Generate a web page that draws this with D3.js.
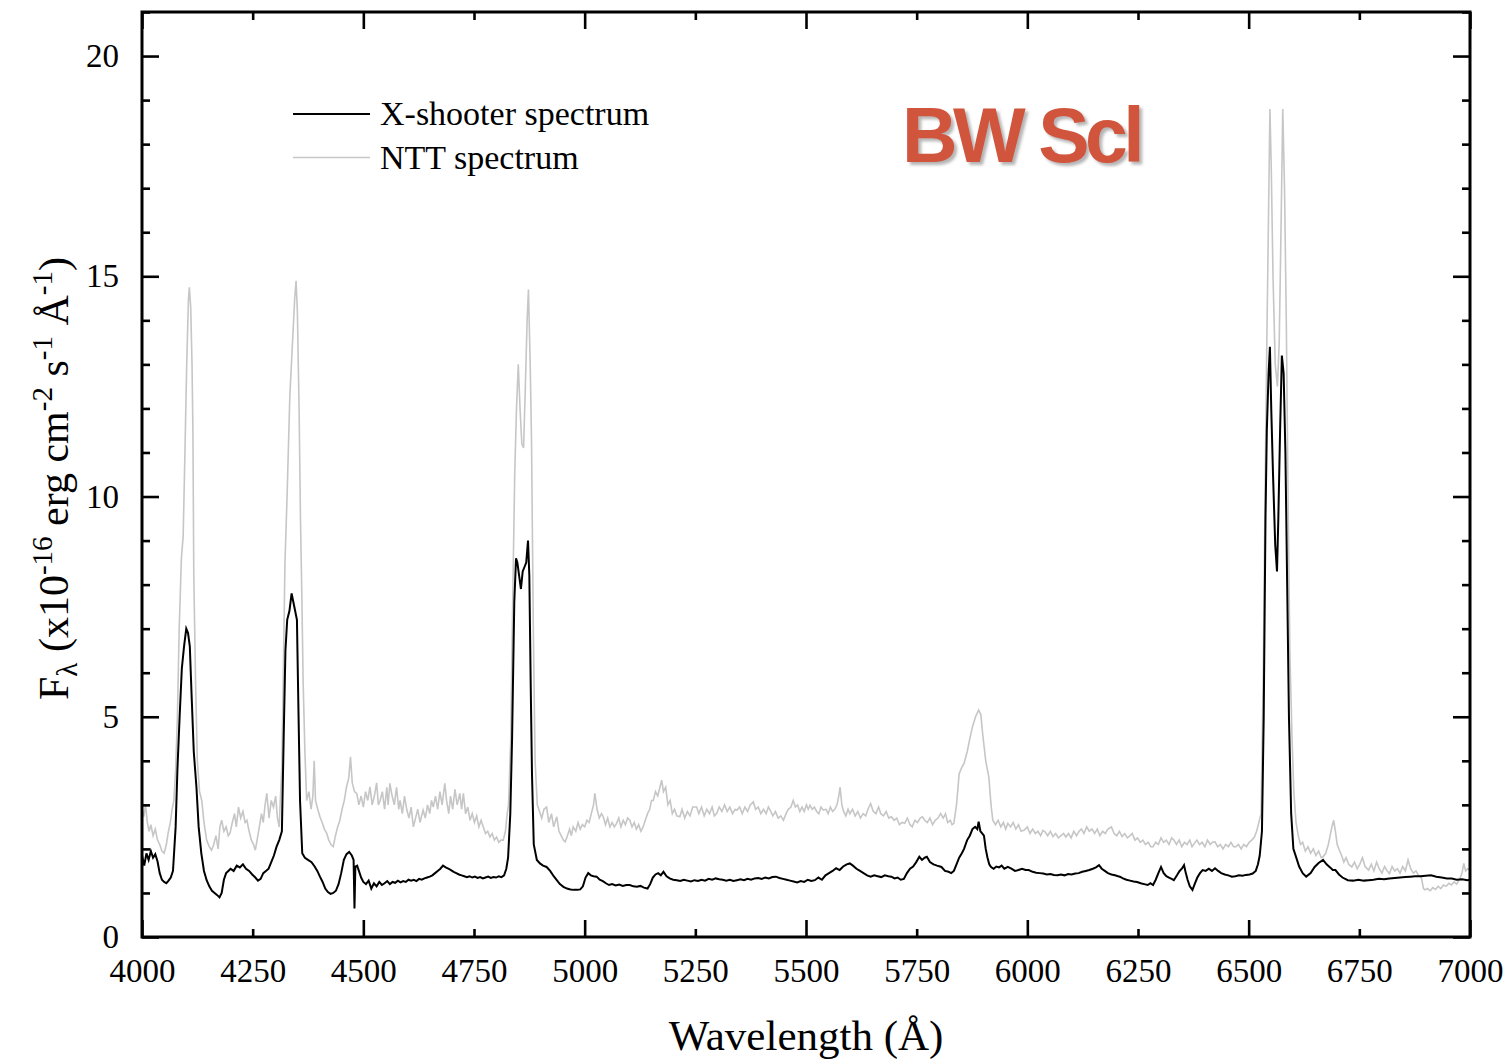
<!DOCTYPE html>
<html>
<head>
<meta charset="utf-8">
<script src="https://cdn.jsdelivr.net/npm/d3@7"></script>
<style>
  body { margin: 0; background: #fff; }
  svg { display: block; }
  .tick text { font-family: "Liberation Serif", "Times New Roman", serif; font-size: 33px; fill: #000; }
</style>
</head>
<body>
<svg id="chart" width="1511" height="1059"></svg>
<script>
// X-shooter spectrum, [wavelength (A), flux]
const xshooter = [
  [4000,1.85],[4005,1.62],[4010,1.9],[4015,1.75],[4020,1.95],[4025,1.8],[4030,1.88],[4035,1.72],[4040,1.45],[4045,1.3],
  [4050,1.25],[4055,1.22],[4060,1.28],[4065,1.35],[4070,1.5],[4076,2.5],[4080,3.8],[4085,5.0],[4090,6.1],[4095,6.6],
  [4100,7.0],[4104,6.9],[4108,6.6],[4112,5.5],[4117,4.2],[4123,3.4],[4128,2.5],[4134,1.9],[4140,1.5],[4146,1.29],
  [4152,1.15],[4158,1.05],[4164,1.0],[4170,0.95],[4175,0.9],[4180,1.0],[4185,1.3],[4190,1.45],[4195,1.5],[4200,1.55],
  [4207,1.5],[4214,1.62],[4221,1.58],[4228,1.65],[4235,1.55],[4242,1.5],[4249,1.42],[4256,1.35],[4262,1.28],[4268,1.32],
  [4274,1.45],[4280,1.5],[4286,1.55],[4292,1.7],[4298,1.85],[4304,2.05],[4310,2.2],[4316,2.4],[4320,4.5],[4324,6.5],
  [4328,7.2],[4333,7.4],[4338,7.8],[4342,7.6],[4346,7.4],[4350,7.2],[4353,5.4],[4357,3.1],[4362,1.9],[4368,1.8],
  [4375,1.75],[4383,1.7],[4390,1.6],[4396,1.5],[4402,1.37],[4408,1.25],[4414,1.1],[4420,1.02],[4426,0.98],[4432,1.0],
  [4438,1.05],[4444,1.2],[4450,1.45],[4456,1.75],[4462,1.88],[4468,1.93],[4474,1.85],[4478,1.75],[4480,0.65],[4482,1.6],
  [4486,1.62],[4490,1.5],[4495,1.35],[4500,1.25],[4506,1.2],[4512,1.28],[4518,1.1],[4524,1.22],[4530,1.15],[4536,1.25],
  [4542,1.18],[4548,1.22],[4554,1.27],[4560,1.2],[4566,1.25],[4572,1.23],[4578,1.28],[4584,1.24],[4590,1.27],[4596,1.25],
  [4602,1.3],[4608,1.28],[4614,1.3],[4620,1.27],[4626,1.32],[4632,1.3],[4638,1.33],[4644,1.35],[4650,1.37],[4656,1.4],
  [4662,1.45],[4668,1.5],[4674,1.55],[4680,1.62],[4686,1.58],[4692,1.55],[4698,1.52],[4704,1.48],[4710,1.45],[4716,1.42],
  [4722,1.4],[4728,1.38],[4734,1.36],[4740,1.38],[4746,1.35],[4752,1.37],[4758,1.34],[4764,1.36],[4770,1.33],[4776,1.35],
  [4782,1.37],[4788,1.34],[4794,1.36],[4800,1.35],[4806,1.38],[4812,1.36],[4818,1.4],[4823,1.55],[4827,1.8],[4832,2.8],
  [4836,4.5],[4841,7.6],[4845,8.6],[4848,8.5],[4852,8.2],[4856,7.9],[4860,8.3],[4864,8.4],[4868,8.5],[4872,9.0],
  [4875,8.2],[4878,5.8],[4881,3.7],[4885,2.1],[4892,1.75],[4899,1.67],[4906,1.62],[4914,1.59],[4922,1.5],[4930,1.38],
  [4937,1.29],[4944,1.2],[4952,1.14],[4960,1.1],[4968,1.08],[4976,1.07],[4984,1.07],[4990,1.08],[4996,1.15],[5002,1.35],
  [5008,1.45],[5014,1.4],[5020,1.38],[5027,1.37],[5034,1.3],[5041,1.27],[5048,1.22],[5055,1.18],[5062,1.2],[5070,1.17],
  [5078,1.19],[5086,1.16],[5094,1.18],[5102,1.18],[5110,1.15],[5118,1.14],[5126,1.16],[5134,1.12],[5142,1.1],[5148,1.2],
  [5154,1.35],[5160,1.42],[5166,1.45],[5172,1.4],[5178,1.48],[5185,1.38],[5192,1.33],[5200,1.3],[5208,1.29],[5216,1.27],
  [5224,1.3],[5232,1.28],[5240,1.26],[5248,1.29],[5256,1.27],[5264,1.3],[5272,1.28],[5280,1.32],[5288,1.3],[5296,1.33],
  [5304,1.31],[5312,1.3],[5320,1.28],[5328,1.3],[5336,1.27],[5344,1.29],[5352,1.31],[5360,1.29],[5368,1.32],[5376,1.3],
  [5384,1.33],[5392,1.34],[5400,1.32],[5408,1.35],[5416,1.33],[5424,1.36],[5432,1.37],[5440,1.34],[5448,1.32],[5456,1.3],
  [5464,1.28],[5472,1.26],[5480,1.24],[5488,1.27],[5496,1.25],[5504,1.3],[5512,1.27],[5520,1.29],[5528,1.35],[5536,1.3],
  [5544,1.4],[5552,1.45],[5560,1.5],[5568,1.56],[5576,1.52],[5584,1.6],[5592,1.65],[5599,1.67],[5606,1.62],[5614,1.55],
  [5622,1.5],[5630,1.45],[5638,1.4],[5646,1.37],[5654,1.4],[5662,1.38],[5670,1.36],[5678,1.4],[5686,1.38],[5693,1.37],
  [5700,1.33],[5707,1.35],[5714,1.3],[5721,1.32],[5728,1.45],[5735,1.55],[5742,1.6],[5749,1.7],[5756,1.82],[5762,1.75],
  [5768,1.8],[5773,1.82],[5780,1.7],[5788,1.65],[5796,1.62],[5806,1.59],[5814,1.5],[5822,1.48],[5828,1.45],[5834,1.5],
  [5840,1.65],[5846,1.8],[5852,1.9],[5857,2.0],[5864,2.2],[5870,2.3],[5876,2.45],[5882,2.5],[5887,2.45],[5890,2.62],
  [5894,2.4],[5898,2.35],[5902,2.3],[5906,2.0],[5910,1.8],[5914,1.65],[5918,1.59],[5924,1.55],[5930,1.6],[5936,1.58],
  [5942,1.62],[5948,1.55],[5956,1.59],[5964,1.55],[5972,1.5],[5980,1.52],[5988,1.55],[5996,1.52],[6003,1.52],[6012,1.48],
  [6020,1.46],[6028,1.45],[6036,1.44],[6044,1.42],[6052,1.43],[6060,1.41],[6068,1.4],[6076,1.42],[6084,1.4],[6092,1.43],
  [6100,1.42],[6108,1.44],[6116,1.45],[6124,1.48],[6132,1.5],[6140,1.52],[6148,1.55],[6155,1.58],[6162,1.63],[6168,1.55],
  [6175,1.5],[6182,1.45],[6190,1.42],[6198,1.4],[6205,1.38],[6209,1.37],[6216,1.33],[6224,1.3],[6232,1.28],[6240,1.26],
  [6248,1.25],[6256,1.22],[6264,1.2],[6272,1.18],[6278,1.22],[6284,1.18],[6290,1.3],[6296,1.45],[6302,1.59],[6308,1.45],
  [6314,1.38],[6320,1.35],[6326,1.32],[6331,1.29],[6338,1.4],[6344,1.5],[6349,1.55],[6354,1.63],[6358,1.45],[6362,1.3],
  [6367,1.15],[6373,1.07],[6378,1.2],[6384,1.35],[6390,1.45],[6396,1.52],[6403,1.5],[6410,1.55],[6417,1.5],[6424,1.56],
  [6431,1.5],[6438,1.45],[6446,1.42],[6454,1.4],[6462,1.37],[6470,1.38],[6478,1.4],[6486,1.39],[6494,1.41],[6502,1.42],
  [6509,1.44],[6516,1.5],[6521,1.65],[6525,1.85],[6530,2.4],[6534,5.0],[6538,9.5],[6541,11.5],[6545,12.8],[6548,13.4],
  [6551,12.0],[6555,10.5],[6560,8.9],[6564,8.3],[6567,9.5],[6571,11.5],[6575,13.2],[6579,12.8],[6583,11.0],[6587,8.0],
  [6591,5.0],[6596,2.8],[6601,2.0],[6607,1.82],[6614,1.6],[6622,1.45],[6630,1.37],[6640,1.45],[6649,1.59],[6658,1.68],
  [6668,1.75],[6676,1.65],[6684,1.58],[6690,1.52],[6696,1.52],[6704,1.42],[6712,1.35],[6724,1.29],[6736,1.28],[6748,1.3],
  [6760,1.28],[6771,1.29],[6782,1.3],[6794,1.32],[6806,1.31],[6818,1.33],[6830,1.34],[6842,1.35],[6854,1.36],[6865,1.37],
  [6876,1.38],[6888,1.38],[6900,1.39],[6912,1.4],[6924,1.37],[6936,1.35],[6948,1.33],[6959,1.33],[6970,1.3],[6982,1.31],
  [6994,1.29],[7000,1.3]
];

// NTT spectrum
const ntt = [
  [4000,2.9],[4004,2.73],[4008,3.0],[4012,2.6],[4016,2.4],[4020,2.55],[4025,2.3],[4030,2.45],[4035,2.2],[4040,2.1],
  [4045,1.95],[4050,1.9],[4055,2.1],[4059,2.36],[4064,2.6],[4068,2.9],[4072,3.1],[4076,3.8],[4080,5.0],[4084,7.0],
  [4089,8.6],[4093,9.1],[4097,11.0],[4101,13.0],[4105,14.5],[4107,14.75],[4110,14.3],[4113,13.0],[4115,11.5],[4117,8.2],
  [4121,5.8],[4125,4.0],[4130,3.3],[4135,3.1],[4140,2.6],[4146,2.2],[4152,2.05],[4157,1.97],[4162,2.1],[4167,2.3],
  [4172,2.0],[4176,2.5],[4180,2.65],[4185,2.4],[4190,2.5],[4195,2.3],[4199,2.36],[4204,2.6],[4209,2.8],[4213,2.5],
  [4218,2.95],[4223,2.7],[4228,2.85],[4233,2.6],[4237,2.65],[4242,2.4],[4247,2.2],[4252,2.1],[4256,1.97],[4260,2.2],
  [4265,2.5],[4270,2.8],[4274,2.6],[4278,3.0],[4282,3.26],[4287,2.7],[4292,3.1],[4297,2.95],[4302,3.2],[4306,2.7],
  [4310,2.5],[4312,3.0],[4316,3.9],[4319,5.8],[4323,8.5],[4328,10.1],[4334,12.3],[4340,13.5],[4345,14.5],[4348,14.9],
  [4351,14.2],[4355,11.9],[4358,9.5],[4361,7.8],[4364,5.8],[4368,4.2],[4372,3.1],[4377,3.3],[4382,2.9],[4386,3.2],
  [4389,4.0],[4392,3.1],[4397,2.9],[4402,2.73],[4407,2.6],[4412,2.45],[4417,2.36],[4422,2.2],[4427,2.1],[4432,2.05],
  [4437,2.3],[4442,2.5],[4447,2.65],[4452,2.9],[4457,3.1],[4462,3.41],[4467,3.6],[4471,4.09],[4475,3.5],[4480,3.3],
  [4485,3.26],[4490,3.0],[4495,3.2],[4500,2.95],[4505,3.3],[4510,3.1],[4515,3.41],[4520,3.0],[4525,3.2],[4530,3.5],
  [4534,3.0],[4538,3.1],[4543,3.3],[4548,2.9],[4553,3.4],[4556,3.0],[4560,3.49],[4565,3.2],[4570,3.0],[4575,3.4],
  [4580,2.9],[4583,3.1],[4588,2.8],[4593,3.2],[4598,2.9],[4603,2.7],[4608,2.95],[4613,2.5],[4618,2.7],[4623,2.9],
  [4628,2.6],[4635,2.88],[4640,2.7],[4645,3.0],[4650,2.8],[4654,3.1],[4658,2.95],[4663,3.2],[4668,2.9],[4673,3.3],
  [4678,3.0],[4684,3.49],[4688,3.1],[4693,2.8],[4697,3.2],[4702,2.9],[4707,3.35],[4712,3.0],[4718,3.26],[4722,2.9],
  [4726,3.26],[4731,2.8],[4736,2.95],[4741,2.65],[4746,2.8],[4751,2.6],[4756,2.75],[4761,2.5],[4766,2.65],[4771,2.5],
  [4776,2.35],[4781,2.4],[4786,2.27],[4791,2.35],[4796,2.2],[4801,2.27],[4806,2.15],[4811,2.2],[4816,2.2],[4821,2.4],
  [4825,2.8],[4828,3.0],[4833,4.5],[4838,8.0],[4842,10.5],[4846,12.0],[4850,13.0],[4854,12.0],[4858,11.2],[4862,11.1],
  [4866,12.5],[4870,14.0],[4873,14.7],[4877,13.0],[4880,11.2],[4884,7.0],[4888,4.0],[4893,3.0],[4898,2.85],[4903,2.7],
  [4908,2.9],[4914,2.95],[4919,2.6],[4925,2.8],[4930,2.5],[4937,2.73],[4942,2.4],[4947,2.3],[4952,2.2],[4956,2.16],
  [4961,2.3],[4966,2.45],[4970,2.3],[4974,2.5],[4980,2.4],[4985,2.6],[4990,2.45],[4995,2.55],[5000,2.5],[5005,2.65],
  [5010,2.6],[5015,2.8],[5020,3.0],[5023,3.26],[5028,2.9],[5033,2.7],[5038,2.8],[5042,2.73],[5047,2.55],[5052,2.7],
  [5057,2.5],[5062,2.6],[5067,2.5],[5072,2.58],[5077,2.7],[5082,2.5],[5087,2.65],[5092,2.55],[5097,2.7],[5102,2.65],
  [5107,2.5],[5112,2.6],[5117,2.45],[5122,2.55],[5127,2.4],[5132,2.5],[5137,2.65],[5142,2.8],[5147,2.9],[5151,3.1],
  [5155,3.1],[5160,3.3],[5165,3.2],[5170,3.4],[5174,3.56],[5178,3.3],[5183,3.4],[5188,3.0],[5193,3.1],[5198,2.8],
  [5203,2.9],[5208,2.75],[5215,2.73],[5220,2.9],[5226,2.7],[5232,2.85],[5238,2.75],[5244,2.95],[5253,2.95],[5258,2.8],
  [5264,2.95],[5270,2.75],[5276,2.9],[5282,2.8],[5288,2.95],[5293,2.75],[5298,2.8],[5304,2.95],[5310,2.85],[5316,3.0],
  [5322,2.85],[5328,2.95],[5334,2.8],[5340,2.9],[5344,2.88],[5350,2.95],[5356,2.8],[5362,2.95],[5368,2.85],[5374,3.0],
  [5381,3.07],[5386,2.9],[5392,2.95],[5398,2.8],[5404,2.9],[5410,2.8],[5415,2.95],[5419,2.88],[5425,2.75],[5431,2.85],
  [5437,2.7],[5443,2.75],[5449,2.65],[5455,2.8],[5460,2.9],[5466,2.95],[5471,3.1],[5476,2.95],[5481,3.0],[5486,2.85],
  [5491,2.95],[5496,2.85],[5501,3.0],[5505,2.9],[5509,2.99],[5514,2.9],[5519,2.95],[5524,2.85],[5529,2.8],[5534,2.95],
  [5539,2.88],[5545,2.9],[5550,2.8],[5555,2.95],[5560,2.85],[5565,2.9],[5570,3.0],[5574,3.2],[5577,3.4],[5581,3.0],
  [5585,2.85],[5590,2.75],[5595,2.9],[5599,2.8],[5605,2.9],[5611,2.75],[5617,2.85],[5623,2.7],[5629,2.8],[5635,2.75],
  [5640,2.9],[5646,3.03],[5652,2.85],[5658,2.8],[5664,2.95],[5669,2.8],[5675,2.75],[5681,2.85],[5687,2.7],[5693,2.73],
  [5699,2.65],[5705,2.7],[5711,2.55],[5717,2.6],[5723,2.58],[5729,2.7],[5735,2.55],[5740,2.5],[5746,2.65],[5752,2.6],
  [5758,2.7],[5763,2.73],[5768,2.65],[5774,2.6],[5780,2.7],[5786,2.55],[5792,2.65],[5798,2.7],[5804,2.8],[5810,2.7],
  [5815,2.8],[5820,2.6],[5826,2.65],[5830,2.55],[5834,2.58],[5840,3.0],[5846,3.71],[5852,3.85],[5857,3.94],[5864,4.2],
  [5870,4.5],[5876,4.77],[5883,5.0],[5890,5.15],[5895,5.05],[5899,4.62],[5906,4.0],[5913,3.63],[5918,3.0],[5922,2.65],
  [5928,2.55],[5934,2.65],[5940,2.5],[5946,2.6],[5951,2.45],[5956,2.58],[5962,2.5],[5968,2.6],[5974,2.45],[5980,2.55],
  [5986,2.4],[5993,2.43],[6000,2.5],[6006,2.35],[6012,2.45],[6018,2.35],[6024,2.4],[6030,2.3],[6035,2.42],[6040,2.39],
  [6046,2.3],[6052,2.4],[6058,2.28],[6064,2.35],[6070,2.25],[6076,2.3],[6082,2.35],[6087,2.27],[6093,2.35],[6099,2.25],
  [6105,2.4],[6111,2.3],[6117,2.4],[6122,2.45],[6128,2.35],[6134,2.5],[6140,2.4],[6146,2.45],[6152,2.35],[6158,2.45],
  [6164,2.3],[6170,2.4],[6176,2.35],[6182,2.45],[6190,2.5],[6196,2.35],[6202,2.3],[6208,2.4],[6214,2.28],[6220,2.35],
  [6226,2.25],[6232,2.3],[6237,2.35],[6243,2.2],[6249,2.25],[6255,2.15],[6261,2.2],[6267,2.1],[6273,2.15],[6279,2.05],
  [6284,2.05],[6290,2.15],[6296,2.1],[6302,2.25],[6308,2.15],[6314,2.2],[6320,2.1],[6326,2.25],[6331,2.2],[6337,2.1],
  [6343,2.2],[6349,2.05],[6355,2.15],[6361,2.1],[6367,2.2],[6372,2.05],[6377,2.12],[6383,2.2],[6389,2.1],[6395,2.15],
  [6401,2.05],[6407,2.2],[6413,2.1],[6418,2.15],[6424,2.16],[6430,2.05],[6436,2.1],[6442,2.0],[6448,2.1],[6454,2.05],
  [6460,2.15],[6466,2.05],[6471,2.05],[6477,2.1],[6483,2.0],[6489,2.1],[6495,2.05],[6501,2.15],[6507,2.2],[6513,2.27],
  [6518,2.4],[6523,2.6],[6528,2.8],[6533,6.0],[6537,10.0],[6541,13.5],[6545,16.5],[6548,18.8],[6551,17.5],[6555,15.0],
  [6560,13.0],[6565,12.5],[6569,13.5],[6573,16.0],[6577,18.8],[6581,17.0],[6585,14.0],[6589,10.0],[6593,6.5],[6598,4.5],
  [6602,3.3],[6607,2.6],[6612,2.3],[6617,2.1],[6622,2.15],[6628,1.95],[6634,2.05],[6640,1.9],[6646,2.0],[6652,1.85],
  [6658,1.95],[6664,1.8],[6668,1.82],[6674,1.9],[6680,2.1],[6684,2.3],[6688,2.5],[6692,2.65],[6696,2.4],[6700,2.1],
  [6705,1.97],[6710,1.85],[6715,1.7],[6720,1.8],[6726,1.65],[6733,1.59],[6739,1.7],[6745,1.55],[6751,1.65],[6757,1.8],
  [6763,1.6],[6771,1.52],[6777,1.65],[6783,1.5],[6789,1.7],[6795,1.55],[6801,1.45],[6807,1.6],[6813,1.5],[6818,1.44],
  [6824,1.6],[6830,1.5],[6836,1.55],[6842,1.45],[6848,1.6],[6854,1.5],[6860,1.75],[6866,1.55],[6872,1.45],[6878,1.5],
  [6884,1.4],[6890,1.35],[6895,1.1],[6898,1.07],[6904,1.1],[6910,1.05],[6916,1.12],[6922,1.08],[6928,1.15],[6934,1.1],
  [6940,1.18],[6946,1.15],[6952,1.22],[6958,1.18],[6964,1.25],[6970,1.2],[6976,1.3],[6982,1.45],[6986,1.67],[6990,1.5],
  [6995,1.55],[7000,1.52]
];

const xLabelTicks = [4000, 4250, 4500, 4750, 5000, 5250, 5500, 5750, 6000, 6250, 6500, 6750, 7000];
const xMajorTicks = [4000, 4500, 5000, 5500, 6000, 6500, 7000];
const xMinorTicks = [4250, 4750, 5250, 5750, 6250, 6750];
const yMajorTicks = [0, 5, 10, 15, 20];
const yMinorTicks = [1, 2, 3, 4, 6, 7, 8, 9, 11, 12, 13, 14, 16, 17, 18, 19, 21];

const seriesNames = ["X-shooter spectrum", "NTT spectrum"];
const seriesColors = ["#000000", "#c6c6c6"];

const svg = d3.select("#chart");
const margin = { top: 12, right: 41, bottom: 122, left: 142 };
const W = +svg.attr("width"), H = +svg.attr("height");
const iw = W - margin.left - margin.right;
const ih = H - margin.top - margin.bottom;

const x = d3.scaleLinear().domain([4000, 7000]).range([0, iw]);
const y = d3.scaleLinear().domain([0, 21]).range([ih, 0]);

const g = svg.append("g").attr("transform", `translate(${margin.left},${margin.top})`);

g.append("clipPath").attr("id", "plotClip")
  .append("rect").attr("width", iw).attr("height", ih);

// spectra (gray first, black on top)
const line = d3.line().x(d => x(d[0])).y(d => y(d[1]));
const plot = g.append("g").attr("clip-path", "url(#plotClip)");
plot.append("path").datum(ntt)
  .attr("fill", "none").attr("stroke", seriesColors[1]).attr("stroke-width", 1.6)
  .attr("stroke-linejoin", "miter").attr("d", line);
plot.append("path").datum(xshooter)
  .attr("fill", "none").attr("stroke", seriesColors[0]).attr("stroke-width", 2)
  .attr("stroke-linejoin", "miter").attr("d", line);

// ticks: inward on all four sides, major and minor
function styleTicks(sel) {
  sel.select(".domain").remove();
  sel.selectAll(".tick line").attr("stroke", "#000").attr("stroke-width", 2.6);
}
const major = 17, minor = 8;
g.append("g").attr("transform", `translate(0,${ih})`)
  .call(d3.axisBottom(x).tickValues(xMajorTicks).tickSize(-major).tickFormat("")).call(styleTicks);
g.append("g").attr("transform", `translate(0,${ih})`)
  .call(d3.axisBottom(x).tickValues(xMinorTicks).tickSize(-minor).tickFormat("")).call(styleTicks);
g.append("g")
  .call(d3.axisTop(x).tickValues(xMajorTicks).tickSize(-major).tickFormat("")).call(styleTicks);
g.append("g")
  .call(d3.axisTop(x).tickValues(xMinorTicks).tickSize(-minor).tickFormat("")).call(styleTicks);
g.append("g")
  .call(d3.axisLeft(y).tickValues(yMajorTicks).tickSize(-major).tickFormat("")).call(styleTicks);
g.append("g")
  .call(d3.axisLeft(y).tickValues(yMinorTicks).tickSize(-minor).tickFormat("")).call(styleTicks);
g.append("g").attr("transform", `translate(${iw},0)`)
  .call(d3.axisRight(y).tickValues(yMajorTicks).tickSize(-major).tickFormat("")).call(styleTicks);
g.append("g").attr("transform", `translate(${iw},0)`)
  .call(d3.axisRight(y).tickValues(yMinorTicks).tickSize(-minor).tickFormat("")).call(styleTicks);

// tick labels
const xLab = g.append("g").attr("transform", `translate(0,${ih})`)
  .call(d3.axisBottom(x).tickValues(xLabelTicks).tickSize(0).tickPadding(22).tickFormat(d3.format("d")));
xLab.select(".domain").remove();
const yLab = g.append("g")
  .call(d3.axisLeft(y).tickValues(yMajorTicks).tickSize(0).tickPadding(23).tickFormat(d3.format("d")));
yLab.select(".domain").remove();

// frame
g.append("rect").attr("width", iw).attr("height", ih)
  .attr("fill", "none").attr("stroke", "#000").attr("stroke-width", 3);

// axis titles
const serif = '"Liberation Serif", "Times New Roman", serif';
svg.append("text")
  .attr("x", margin.left + iw / 2).attr("y", 1050)
  .attr("text-anchor", "middle")
  .style("font-family", serif).style("font-size", "43px")
  .text("Wavelength (Å)");

const yt = svg.append("text")
  .attr("transform", `translate(68,${margin.top + ih / 2 + 4}) rotate(-90)`)
  .attr("text-anchor", "middle")
  .style("font-family", serif).style("font-size", "42px");
const parts = [
  ["F", 0, 42], ["λ", 9, 29], [" (x10", -9, 42], ["-16", -16, 29], [" erg cm", 16, 42],
  ["-2", -16, 29], [" s", 16, 42], ["-1", -16, 29], [" Å", 16, 42], ["-1", -16, 29], [")", 16, 42]
];
parts.forEach(p => yt.append("tspan").attr("dy", p[1]).style("font-size", p[2] + "px").text(p[0]));

// legend
const legend = svg.append("g").attr("transform", "translate(293,114)");
seriesNames.forEach((name, i) => {
  const row = legend.append("g").attr("transform", `translate(0,${i * 43.5})`);
  row.append("line").attr("x1", 0).attr("x2", 77).attr("y1", 0).attr("y2", 0)
    .attr("stroke", seriesColors[i]).attr("stroke-width", i === 0 ? 1.9 : 1.6);
  row.append("text").attr("x", 87).attr("y", 11)
    .style("font-family", serif).style("font-size", "34px").text(name);
});

// object label
const defs = svg.append("defs");
defs.append("filter").attr("id", "shadow").attr("x", "-10%").attr("y", "-20%").attr("width", "130%").attr("height", "150%")
  .append("feDropShadow").attr("dx", 3).attr("dy", 3).attr("stdDeviation", 1.6)
  .attr("flood-color", "#777").attr("flood-opacity", 0.55);
svg.append("text")
  .attr("x", 902).attr("y", 162)
  .attr("filter", "url(#shadow)")
  .style("font-family", '"Liberation Sans", Arial, sans-serif')
  .style("font-weight", "bold").style("font-size", "77px")
  .style("letter-spacing", "-4.5px")
  .attr("fill", "#d1553c")
  .text("BW Scl");
</script>
</body>
</html>
